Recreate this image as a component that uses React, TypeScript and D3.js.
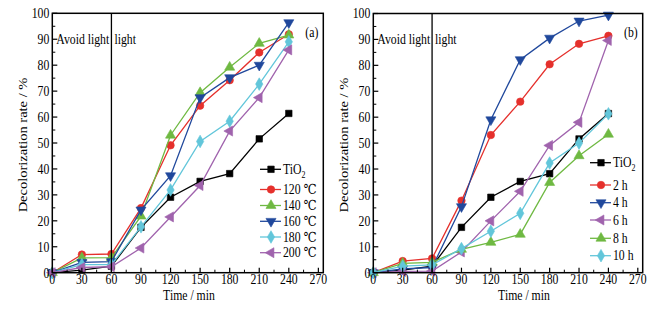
import React from "react";
import * as d3 from "d3";

const times = [0, 30, 60, 90, 120, 150, 180, 210, 240];
const xTicks = [0, 30, 60, 90, 120, 150, 180, 210, 240, 270];
const yTicks = [0, 10, 20, 30, 40, 50, 60, 70, 80, 90, 100];

const tio2 = [0, 1, 2.5, 17.5, 29.1, 35.2, 38.2, 51.6, 61.4];
// panel (a)
const t120 = [0, 7.0, 7.2, 24.9, 49.1, 64.4, 74.2, 84.9, 91.9];
const t140 = [0, 5.7, 5.8, 21.8, 53.0, 69.4, 79.2, 88.4, 91.6];
const t160 = [0, 4.0, 4.3, 24.2, 37.4, 67.5, 75.2, 80.0, 96.4];
const t180 = [0, 3.1, 3.1, 17.7, 31.9, 50.6, 58.4, 72.7, 89.0];
const t200 = [0, 2.0, 2.3, 9.5, 21.5, 33.6, 54.6, 67.5, 85.9];
// panel (b)
const h2 = [0, 4.5, 5.5, 27.8, 53.1, 66.0, 80.4, 88.3, 91.4];
const h4 = [0, 1.5, 2.0, 25.5, 59.0, 82.2, 90.5, 97.1, 99.4];
const h6 = [0, 0.5, 0.6, 8.0, 20.0, 31.4, 49.1, 58.0, 89.6];
const h8 = [0, 3.6, 4.0, 9.0, 11.7, 14.8, 34.8, 45.1, 53.4];
const h10 = [0, 2.5, 3.0, 9.3, 16.0, 22.9, 42.3, 50.0, 61.3];

const labelsA = ["TiO2", "120 \u2103", "140 \u2103", "160 \u2103", "180 \u2103", "200 \u2103"];
const labelsB = ["TiO2", "2 h", "4 h", "6 h", "8 h", "10 h"];

const colors = ["#000000", "#e5302c", "#6fb942", "#20489c", "#62c6da", "#a063ad"];

type Marker = "square" | "circle" | "up" | "down" | "diamond" | "left";
const markersA: Marker[] = ["square", "circle", "up", "down", "diamond", "left"];
const colorsA = [colors[0], colors[1], colors[2], colors[3], colors[4], colors[5]];
const markersB: Marker[] = ["square", "circle", "down", "left", "up", "diamond"];
const colorsB = [colors[0], colors[1], colors[3], colors[5], colors[2], colors[4]];

const FONT = "'Liberation Serif', 'Times New Roman', Times, 'DejaVu Serif', serif";
const FS = 14;
const SX = 0.84;

function symbolPath(m: Marker): { d: string; rot: number } {
  if (m === "square") return { d: d3.symbol(d3.symbolSquare, 42)() || "", rot: 0 };
  if (m === "circle") return { d: d3.symbol(d3.symbolCircle, 44)() || "", rot: 0 };
  if (m === "diamond") return { d: d3.symbol(d3.symbolDiamond, 46)() || "", rot: 0 };
  const tri = d3.symbol(d3.symbolTriangle, 44)() || "";
  if (m === "up") return { d: tri, rot: 0 };
  if (m === "down") return { d: tri, rot: 180 };
  return { d: tri, rot: -90 };
}

function MarkerShape({ m, x, y, color }: { m: Marker; x: number; y: number; color: string }) {
  const s = symbolPath(m);
  return <path d={s.d} transform={`translate(${x},${y}) rotate(${s.rot})`} fill={color} stroke={color} strokeWidth={0.6} />;
}

function T({
  x,
  y,
  anchor = "start",
  children,
}: {
  x: number;
  y: number;
  anchor?: string;
  children: React.ReactNode;
}) {
  return (
    <text transform={`translate(${x},${y}) scale(${SX},1)`} textAnchor={anchor} fontSize={FS}>
      {children}
    </text>
  );
}

function Label({ text, x, y }: { text: string; x: number; y: number }) {
  if (text === "TiO2") {
    return (
      <T x={x} y={y + 4.5}>
        TiO<tspan fontSize={9.5} dy={4}>2</tspan>
      </T>
    );
  }
  return (
    <T x={x} y={y + 4.5}>
      {text}
    </T>
  );
}

type PanelProps = {
  left: number;
  right: number;
  top: number;
  bottom: number;
  series: number[][];
  labels: string[];
  markers: Marker[];
  cols: string[];
  tag: string;
  legendX: number;
  legendYs: number[];
  yTitleX: number;
  xTitleX: number;
};

function Panel(p: PanelProps) {
  const x = d3.scaleLinear().domain([0, 275]).range([p.left, p.right]);
  const y = d3.scaleLinear().domain([0, 100]).range([p.bottom, p.top]);
  const line = d3
    .line<number>()
    .x((_, i) => x(times[i]))
    .y((d) => y(d));
  const minorX = d3.range(15, 275, 30);
  const minorY = d3.range(5, 100, 10);
  return (
    <g>
      {p.series.map((s, k) => (
        <g key={k}>
          <path d={line(s) || ""} fill="none" stroke={p.cols[k]} strokeWidth={1.3} />
          {s.map((v, i) => (
            <MarkerShape key={i} m={p.markers[k]} x={x(times[i])} y={y(v)} color={p.cols[k]} />
          ))}
        </g>
      ))}
      <line x1={x(60)} x2={x(60)} y1={p.top} y2={p.bottom} stroke="#000" strokeWidth={1.3} />
      <rect x={p.left} y={p.top} width={p.right - p.left} height={p.bottom - p.top} fill="none" stroke="#000" strokeWidth={1.5} />
      {xTicks.map((t) => (
        <g key={"x" + t}>
          <line x1={x(t)} x2={x(t)} y1={p.bottom} y2={p.bottom - 5} stroke="#000" strokeWidth={1.2} />
          <T x={x(t)} y={p.bottom + 11.5} anchor="middle">
            {t}
          </T>
        </g>
      ))}
      {minorX.map((t) => (
        <line key={"mx" + t} x1={x(t)} x2={x(t)} y1={p.bottom} y2={p.bottom - 3} stroke="#000" strokeWidth={1} />
      ))}
      {yTicks.map((t) => (
        <g key={"y" + t}>
          <line x1={p.left} x2={p.left + 5} y1={y(t)} y2={y(t)} stroke="#000" strokeWidth={1.2} />
          <T x={p.left - 3} y={y(t) + 4.8} anchor="end">
            {t}
          </T>
        </g>
      ))}
      {minorY.map((t) => (
        <line key={"my" + t} x1={p.left} x2={p.left + 3} y1={y(t)} y2={y(t)} stroke="#000" strokeWidth={1} />
      ))}
      <T x={p.xTitleX} y={p.bottom + 27.5} anchor="middle">
        Time / min
      </T>
      <text
        transform={`translate(${p.yTitleX + 4.5},${(p.top + p.bottom) / 2 + 2}) scale(${SX},1) rotate(-90)`}
        textAnchor="middle"
        fontSize={14.5}
      >
        Decolorization rate / %
      </text>
      <T x={p.left + 4} y={y(90) + 4.5}>
        Avoid light
      </T>
      <T x={x(60) + 3} y={y(90) + 4.5}>
        light
      </T>
      <T x={p.right - 5} y={y(92.5) + 4.5} anchor="end">
        {p.tag}
      </T>
      {p.labels.map((lab, k) => (
        <g key={"lg" + k}>
          <line x1={p.legendX} x2={p.legendX + 21} y1={p.legendYs[k]} y2={p.legendYs[k]} stroke={p.cols[k]} strokeWidth={1.3} />
          <MarkerShape m={p.markers[k]} x={p.legendX + 11} y={p.legendYs[k]} color={p.cols[k]} />
          <Label text={lab} x={p.legendX + 23} y={p.legendYs[k]} />
        </g>
      ))}
    </g>
  );
}

export default function App() {
  return (
    <svg
      width={667}
      height={310}
      style={{ display: "block", position: "absolute", left: 0, top: 0, fontFamily: FONT }}
    >
      <rect x={0} y={0} width={667} height={310} fill="#fff" />
      <Panel
        left={52.3}
        right={323.3}
        top={13.3}
        bottom={272.7}
        series={[tio2, t120, t140, t160, t180, t200]}
        labels={labelsA}
        markers={markersA}
        cols={colorsA}
        tag="(a)"
        legendX={260}
        legendYs={[169.3, 189.5, 205.5, 221.3, 237, 252.7]}
        yTitleX={22}
        xTitleX={189}
      />
      <Panel
        left={373.3}
        right={642.7}
        top={13.5}
        bottom={272.7}
        series={[tio2, h2, h4, h6, h8, h10]}
        labels={labelsB}
        markers={markersB}
        cols={colorsB}
        tag="(b)"
        legendX={590}
        legendYs={[162.7, 185, 202.7, 220, 238.3, 255.7]}
        yTitleX={343}
        xTitleX={524}
      />
    </svg>
  );
}
